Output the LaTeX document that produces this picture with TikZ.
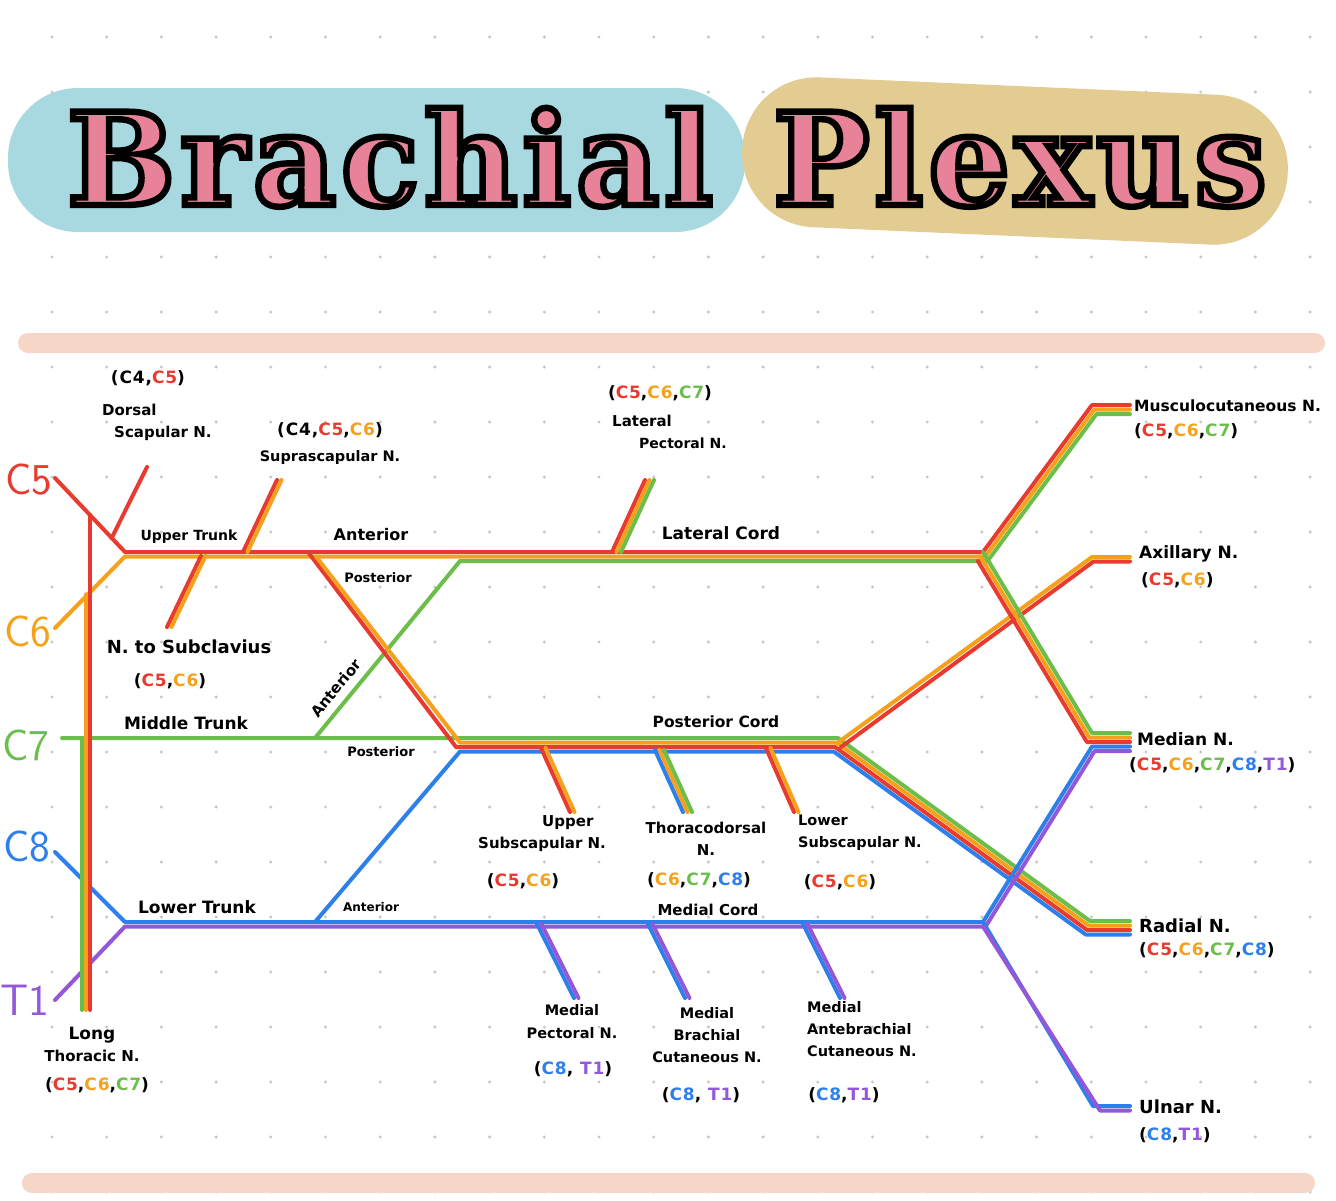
\documentclass[tikz,border=0pt]{standalone}
\usepackage{fontspec}
\setmainfont{DejaVu Sans}
\newfontfamily\ttlfont{DejaVu Serif}[LetterSpace=4,BoldFeatures={FakeBold=5}]
\newfontfamily\codefont{DejaVu Sans}[LetterSpace=5]
\usepackage{tikz}
\usetikzlibrary{calc}

\definecolor{cfive}{RGB}{232,58,46}
\definecolor{csix}{RGB}{246,161,28}
\definecolor{cseven}{RGB}{108,190,75}
\definecolor{ceight}{RGB}{45,127,235}
\definecolor{tone}{RGB}{148,87,217}
\definecolor{pillblue}{RGB}{168,216,224}
\definecolor{pilltan}{RGB}{226,204,145}
\definecolor{titlepink}{RGB}{231,130,152}
\definecolor{barpeach}{RGB}{246,214,198}
\definecolor{dotgray}{RGB}{200,200,200}

\newcommand{\cfive}{\textcolor{cfive}{C5}}
\newcommand{\csix}{\textcolor{csix}{C6}}
\newcommand{\cseven}{\textcolor{cseven}{C7}}
\newcommand{\ceight}{\textcolor{ceight}{C8}}
\newcommand{\tfirst}{\textcolor{tone}{T1}}
% pink title word, stroked in black
\newcommand{\titleword}[1]{%
  {\ttlfont\bfseries\color{titlepink}\special{pdf:code 0 0 0 RG}#1}}

\begin{document}
\begin{tikzpicture}[x=1pt, y=-1pt,
    nerve/.style={line width=4, line cap=round, line join=round},
    lbl/.style={font=\bfseries\fontsize{15}{22}\selectfont, inner sep=1},
    big/.style={font=\bfseries\fontsize{17}{22}\selectfont, inner sep=1},
    sml/.style={font=\bfseries\fontsize{13}{15}\selectfont, inner sep=1},
    codelbl/.style={font=\codefont\bfseries\fontsize{17}{20}\selectfont, inner sep=1},
    rootlbl/.style={font=\sffamily\fontsize{44}{44}\selectfont, inner sep=0},
    ttl/.style={font=\fontsize{128}{128}\selectfont, anchor=base, inner sep=0},
  ]
  \useasboundingbox (0,0) rectangle (1336,1200);
  \fill[white] (0,0) rectangle (1336,1200);

  % dot grid
  \foreach \i in {0,...,23}
    \foreach \j in {0,...,21}
      \fill[dotgray] (52+54.7*\i, 37+55*\j) circle (1.7);

  % title
  \fill[pillblue, rounded corners=70] (8,88) rectangle (745,232);
  \fill[pilltan, rounded corners=74, rotate around={-2.5:(1015,161)}] (742,86) rectangle (1288,236);
  \node[ttl] (brachial) at (390,205) {\titleword{Brachial}};
  \node[ttl] (plexus) at (1020,205) {\titleword{Plexus}};

  % peach rules
  \draw[barpeach, line width=20, line cap=round] (28,343) -- (1315,343);
  \draw[barpeach, line width=20, line cap=round] (32,1183) -- (1305,1183);

  % junctions
  \coordinate (c5) at (55,478);
  \coordinate (c6) at (55,628);
  \coordinate (c7) at (62,738);
  \coordinate (c8) at (55,852);
  \coordinate (t1) at (55,1000);
  \coordinate (ut) at (125,552);
  \coordinate (lt) at (125,922);
  \coordinate (utd) at (308,552);
  \coordinate (mtd) at (315,738);
  \coordinate (ltd) at (315,922);
  \coordinate (lc) at (460,552);
  \coordinate (pc) at (458,738);
  \coordinate (lce) at (983,552);
  \coordinate (pce) at (838,738);
  \coordinate (mce) at (983,922);
  \coordinate (mcn) at (1092,405);  \coordinate (mcnE) at (1130,405);
  \coordinate (axn) at (1092,557);  \coordinate (axnE) at (1130,557);
  \coordinate (mdn) at (1092,733);  \coordinate (mdnE) at (1130,733);
  \coordinate (rdn) at (1090,921);  \coordinate (rdnE) at (1130,921);
  \coordinate (uln) at (1093,1106); \coordinate (ulnE) at (1130,1106);
  \coordinate (dsn) at (147,467);
  \coordinate (ssb) at (243,552);   \coordinate (ssn) at (277,480);
  \coordinate (sbb) at (201,556);   \coordinate (sbn) at (167,627);
  \coordinate (lpb) at (612,552);   \coordinate (lpn) at (645,480);
  \coordinate (usb) at (541,748);   \coordinate (usn) at (570,812);
  \coordinate (tdb) at (655,750);   \coordinate (tdn) at (683,812);
  \coordinate (lsb) at (766,748);   \coordinate (lsn) at (794,812);
  \coordinate (mpb) at (537,924);   \coordinate (mpn) at (574,998);
  \coordinate (mbb) at (648,924);   \coordinate (mbn) at (685,998);
  \coordinate (mab) at (803,924);   \coordinate (man) at (840,998);
  \coordinate (ltn) at (86,1010);

  % C5 -- upper trunk, lateral cord, musculocutaneous
  \draw[nerve, cfive] (c5) -- (ut) -- (lce) -- (mcn) -- (mcnE);
  % C6
  \draw[nerve, csix] (c6) -- ($(ut)+(0,4.5)$) -- ($(lce)+(2.25,4.5)$) -- ($(mcn)+(2.25,4.5)$) -- ($(mcnE)+(0,4.5)$);
  % C7 -- middle trunk, posterior cord, radial
  \draw[nerve, cseven] (c7) -- (pce) -- (rdn) -- (rdnE);
  \draw[nerve, cseven] (mtd) -- ($(lc)+(0,9)$) -- ($(lce)+(4.5,9)$) -- ($(mcn)+(4.5,9)$) -- ($(mcnE)+(0,9)$);
  % C8, T1 -- lower trunk, medial cord
  \draw[nerve, ceight] (c8) -- (lt) -- (mce);
  \draw[nerve, tone] (t1) -- ($(lt)+(0,4.5)$) -- ($(mce)+(0,4.5)$);

  % posterior divisions
  \draw[nerve, cfive] (utd) -- ($(pc)+(-2,9)$) -- ($(pce)+(-2.9,9)$) -- ($(rdn)+(-2.9,9)$) -- ($(rdnE)+(0,9)$);
  \draw[nerve, csix] ($(utd)+(8,4.5)$) -- ($(pc)+(2,4.5)$) -- ($(pce)+(-1.4,4.5)$) -- ($(rdn)+(-1.4,4.5)$) -- ($(rdnE)+(0,4.5)$);
  \draw[nerve, ceight] (ltd) -- ($(pc)+(2,13.5)$) -- ($(pce)+(-4.3,13.5)$) -- ($(rdn)+(-4.3,13.5)$) -- ($(rdnE)+(0,13.5)$);

  % axillary
  \draw[nerve, csix] ($(pce)+(0,4.5)$) -- (axn) -- (axnE);
  \draw[nerve, cfive] ($(pce)+(3,9)$) -- ($(axn)+(1.5,4.5)$) -- ($(axnE)+(0,4.5)$);

  % median
  \draw[nerve, cseven] (lce) -- (mdn) -- (mdnE);
  \draw[nerve, csix] ($(lce)+(-2.6,4.5)$) -- ($(mdn)+(-2.6,4.5)$) -- ($(mdnE)+(0,4.5)$);
  \draw[nerve, cfive] ($(lce)+(-5.1,9)$) -- ($(mdn)+(-5.1,9)$) -- ($(mdnE)+(0,9)$);
  \draw[nerve, ceight] (mce) -- ($(mdn)+(0,13.5)$) -- ($(mdnE)+(0,13.5)$);
  \draw[nerve, tone] ($(mce)+(2.6,4.5)$) -- ($(mdn)+(2.6,18)$) -- ($(mdnE)+(0,18)$);

  % ulnar
  \draw[nerve, ceight] (mce) -- (uln) -- (ulnE);
  \draw[nerve, tone] ($(mce)+(0,4.5)$) -- ($(uln)+(7,4.5)$) -- ($(ulnE)+(0,4.5)$);

  % branches off roots and trunks
  \draw[nerve, cfive] ($(c5)!0.81!(ut)$) -- (dsn);
  \draw[nerve, cfive] (ssb) -- (ssn);
  \draw[nerve, csix] ($(ssb)+(4.5,0)$) -- ($(ssn)+(4.5,0)$);
  \draw[nerve, cfive] (sbb) -- (sbn);
  \draw[nerve, csix] ($(sbb)+(4.5,0)$) -- ($(sbn)+(4.5,0)$);

  % branches off the cords
  \draw[nerve, cfive] (lpb) -- (lpn);
  \draw[nerve, csix] ($(lpb)+(4.5,0)$) -- ($(lpn)+(4.5,0)$);
  \draw[nerve, cseven] ($(lpb)+(9,0)$) -- ($(lpn)+(9,0)$);
  \draw[nerve, cfive] (usb) -- (usn);
  \draw[nerve, csix] ($(usb)+(4.5,0)$) -- ($(usn)+(4.5,0)$);
  \draw[nerve, ceight] (tdb) -- (tdn);
  \draw[nerve, csix] ($(tdb)+(4.5,0)$) -- ($(tdn)+(4.5,0)$);
  \draw[nerve, cseven] ($(tdb)+(9,0)$) -- ($(tdn)+(9,0)$);
  \draw[nerve, cfive] (lsb) -- (lsn);
  \draw[nerve, csix] ($(lsb)+(4.5,0)$) -- ($(lsn)+(4.5,0)$);
  \draw[nerve, ceight] (mpb) -- (mpn);
  \draw[nerve, tone] ($(mpb)+(4.5,0)$) -- ($(mpn)+(4.5,0)$);
  \draw[nerve, ceight] (mbb) -- (mbn);
  \draw[nerve, tone] ($(mbb)+(4.5,0)$) -- ($(mbn)+(4.5,0)$);
  \draw[nerve, ceight] (mab) -- (man);
  \draw[nerve, tone] ($(mab)+(4.5,0)$) -- ($(man)+(4.5,0)$);

  % long thoracic
  \draw[nerve, cseven] ($(c7)+(20,0)$) coordinate (ltg) -- (ltg |- ltn);
  \draw[nerve, csix] ($(c6)!0.443!(ut)$) coordinate (lto) -- (lto |- ltn);
  \draw[nerve, cfive] ($(c5)!0.5!(ut)$) coordinate (ltr) -- (ltr |- ltn);

  % root labels
  \node[rootlbl, text=cfive] (rootC5) at (29,480) {C5};
  \node[rootlbl, text=csix] (rootC6) at (28,632) {C6};
  \node[rootlbl, text=cseven] (rootC7) at (26,745) {C7};
  \node[rootlbl, text=ceight] (rootC8) at (27,847) {C8};
  \node[rootlbl, text=tone] (rootT1) at (25,1000) {T1};

  % trunk and division labels
  \node[lbl, font=\bfseries\fontsize{14}{16}\selectfont] (uppertrunk) at (189,537) {Upper Trunk};
  \node[big] (middletrunk) at (186,723) {Middle Trunk};
  \node[big] (lowertrunk) at (197,907) {Lower Trunk};
  \node[big, font=\bfseries\fontsize{16}{18}\selectfont] (ant-upper) at (371,535) {Anterior};
  \node[sml] (post-upper) at (378,578) {Posterior};
  \node[lbl, rotate=51] (ant-middle) at (336,688) {Anterior};
  \node[sml] (post-middle) at (381,752) {Posterior};
  \node[sml, font=\bfseries\fontsize{12}{14}\selectfont] (ant-lower) at (371,907) {Anterior};
  \node[big] (latcord) at (721,533) {Lateral Cord};
  \node[lbl, font=\bfseries\fontsize{15.5}{18}\selectfont] (postcord) at (716,722) {Posterior Cord};
  \node[lbl] (medcord) at (708,910) {Medial Cord};

  % nerve labels near the roots
  \node[codelbl] (ds-code) at (148,378) {(C4,\cfive)};
  \node[lbl, align=left, anchor=north west] (ds-name) at (101,403) {Dorsal\\\hspace{12pt}Scapular N.};
  \node[codelbl] (ss-code) at (330,430) {(C4,\cfive,\csix)};
  \node[lbl, font=\bfseries\fontsize{14.5}{16}\selectfont] (ss-name) at (330,457) {Suprascapular N.};
  \node[big, font=\bfseries\fontsize{18}{20}\selectfont] (sb-name) at (189,647) {N. to Subclavius};
  \node[codelbl] (sb-code) at (170,681) {(\cfive,\csix)};
  \node[lbl, align=center] (lth-name) at (92,1044) {\fontsize{17}{22}\selectfont Long\\Thoracic N.};
  \node[codelbl] (lth-code) at (97,1085) {(\cfive,\csix,\cseven)};

  % lateral cord branch
  \node[codelbl] (lp-code) at (660,393) {(\cfive,\csix,\cseven)};
  \node[lbl, align=left, anchor=north west] (lp-name) at (611,414) {Lateral\\\hspace{27pt}{\fontsize{14}{22}\selectfont Pectoral N.}};

  % posterior cord branches
  \node[lbl, align=left, anchor=north west] (us-name) at (477,814) {\hspace{64pt}Upper\\Subscapular N.};
  \node[codelbl] (us-code) at (523,881) {(\cfive,\csix)};
  \node[lbl, align=center] (td-name) at (706,839) {Thoracodorsal\\N.};
  \node[codelbl] (td-code) at (699,880) {(\csix,\cseven,\ceight)};
  \node[lbl, align=left, anchor=north west, font=\bfseries\fontsize{14.5}{22}\selectfont] (ls-name) at (797,814) {Lower\\Subscapular N.};
  \node[codelbl] (ls-code) at (840,882) {(\cfive,\csix)};

  % medial cord branches
  \node[lbl, align=center, font=\bfseries\fontsize{14.5}{23}\selectfont] (mp-name) at (572,1022) {Medial\\Pectoral N.};
  \node[codelbl] (mp-code) at (573,1069) {(\ceight, \tfirst)};
  \node[lbl, align=center, font=\bfseries\fontsize{14.5}{22}\selectfont] (mb-name) at (707,1035) {Medial\\Brachial\\Cutaneous N.};
  \node[codelbl] (mb-code) at (701,1095) {(\ceight, \tfirst)};
  \node[lbl, align=left, anchor=north west, font=\bfseries\fontsize{14.5}{22}\selectfont] (ma-name) at (806,1000) {Medial\\Antebrachial\\Cutaneous N.};
  \node[codelbl] (ma-code) at (844,1095) {(\ceight,\tfirst)};

  % terminal nerves
  \node[lbl, anchor=west, font=\bfseries\fontsize{15.5}{18}\selectfont] (musc-name) at (1133,406) {Musculocutaneous N.};
  \node[codelbl, anchor=west] (musc-code) at (1133,431) {(\cfive,\csix,\cseven)};
  \node[big, anchor=west] (ax-name) at (1138,554) {Axillary N.};
  \node[codelbl, anchor=west] (ax-code) at (1140,580) {(\cfive,\csix)};
  \node[big, anchor=west] (med-name) at (1136,739) {Median N.};
  \node[codelbl, anchor=west] (med-code) at (1128,765) {(\cfive,\csix,\cseven,\ceight,\tfirst)};
  \node[big, anchor=west, font=\bfseries\fontsize{18}{20}\selectfont] (rad-name) at (1138,926) {Radial N.};
  \node[codelbl, anchor=west] (rad-code) at (1138,950) {(\cfive,\csix,\cseven,\ceight)};
  \node[big, anchor=west, font=\bfseries\fontsize{18}{20}\selectfont] (uln-name) at (1138,1107) {Ulnar N.};
  \node[codelbl, anchor=west] (uln-code) at (1138,1135) {(\ceight,\tfirst)};
\end{tikzpicture}
\end{document}
